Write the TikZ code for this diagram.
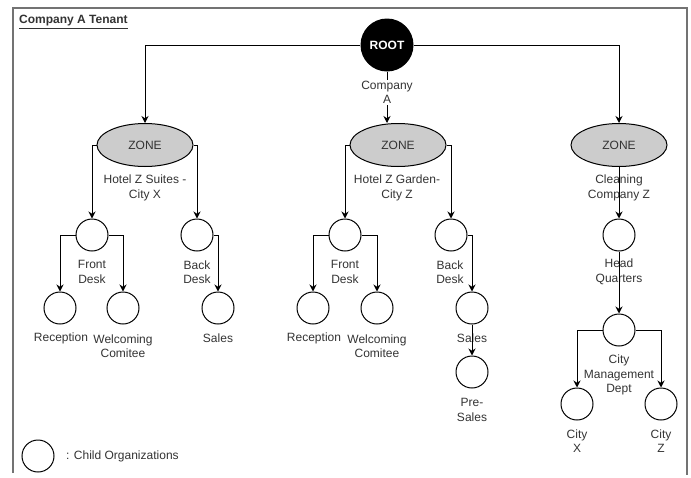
\documentclass[tikz,border=0pt]{standalone}
\usepackage{fontspec}
\setmainfont{Liberation Sans}
\usetikzlibrary{shapes.geometric}
\usetikzlibrary{arrows.meta}

\begin{document}
\begin{tikzpicture}[x=1pt, y=-1pt,
  every node/.style={font=\fontsize{12}{14.5}\selectfont, text=black!80},
  zone/.style={draw, ellipse, fill=black!20, minimum width=96pt, minimum height=43pt, inner sep=0pt, line width=1pt},
  org/.style={draw, circle, minimum size=32pt, inner sep=0pt, line width=1pt},
  lbl/.style={align=center, inner sep=0pt},
  arr/.style={line width=1pt, -{Stealth[length=7pt, width=7pt]}}
]
\useasboundingbox (0,0) rectangle (691,477);
\draw[black!55, line width=2pt] (13,473) -- (13,8) -- (687,8) -- (687,475);
\node[anchor=west, inner sep=0pt, font=\fontsize{12}{15}\selectfont\bfseries] (title) at (19,22) {\underline{Company A Tenant}};

\node[circle, fill=black, minimum size=53pt, inner sep=0pt, text=white, font=\fontsize{12}{15}\selectfont\bfseries] (root) at (387,45) {ROOT};

\node[zone] (zoneA) at (145,145) {ZONE};
\node[zone] (zoneB) at (398,145) {ZONE};
\node[zone] (zoneC) at (619,145) {ZONE};

\node[org] (fdA) at (92,235) {};
\node[org] (bdA) at (197,235) {};
\node[org] (recA) at (60,308) {};
\node[org] (welA) at (123,308) {};
\node[org] (salA) at (218,308) {};

\node[org] (fdB) at (345,235) {};
\node[org] (bdB) at (451,235) {};
\node[org] (recB) at (313,308) {};
\node[org] (welB) at (377,308) {};
\node[org] (salB) at (472,308) {};
\node[org] (preB) at (472,372) {};

\node[org] (hq) at (619,235) {};
\node[org] (cmd) at (619,330) {};
\node[org] (cx) at (577,404) {};
\node[org] (cz) at (661,404) {};

\node[org] (legend) at (38,456) {};
\node[anchor=west, inner sep=0pt] (legendtxt) at (66,456) {: Child Organizations};

\node[lbl] (lzoneA) at (145,188) {Hotel Z Suites -\\City X};
\node[lbl] (lzoneB) at (397,188) {Hotel Z Garden-\\City Z};
\node[lbl] (lzoneC) at (619,188) {Cleaning\\Company Z};
\node[lbl] (lfdA) at (92,272) {Front\\Desk};
\node[lbl] (lbdA) at (197,272) {Back\\Desk};
\node[lbl] (lrecA) at (61,338) {Reception};
\node[lbl] (lwelA) at (123,346) {Welcoming\\Comitee};
\node[lbl] (lsalA) at (218,338) {Sales};
\node[lbl] (lfdB) at (345,272) {Front\\Desk};
\node[lbl] (lbdB) at (450,272) {Back\\Desk};
\node[lbl] (lrecB) at (314,338) {Reception};
\node[lbl] (lwelB) at (377,346) {Welcoming\\Comitee};
\node[lbl] (lsalB) at (472,338) {Sales};
\node[lbl] (lpreB) at (472,410) {Pre-\\Sales};
\node[lbl] (lhq) at (619,272) {Head\\Quarters};
\node[lbl] (lcmd) at (619,375) {City\\Management\\Dept};
\node[lbl] (lcx) at (577,441) {City\\X};
\node[lbl] (lcz) at (661,441) {City\\Z};

\draw[arr] (root.west) -| (zoneA.north);
\draw[arr] (root.east) -| (zoneC.north);
\draw[arr] (root.south) -- (root.south |- zoneB.north) node[pos=0.4, fill=white, lbl, inner sep=1pt] (lroot) {Company\\A};

\draw[arr] (zoneA.west) -| (fdA.north);
\draw[arr] (zoneA.east) -| (bdA.north);
\draw[arr] (fdA.west) -| (recA.north);
\draw[arr] (fdA.east) -| (welA.north);
\draw[arr] (bdA.east) -| (salA.north);

\draw[arr] (zoneB.west) -| (fdB.north);
\draw[arr] (zoneB.east) -| (bdB.north);
\draw[arr] (fdB.west) -| (recB.north);
\draw[arr] (fdB.east) -| (welB.north);
\draw[arr] (bdB.east) -| (salB.north);
\draw[arr] (salB.south) -- (preB.north);

\draw[arr] (zoneC.south) -- (hq.north);
\draw[arr] (hq.south) -- (cmd.north);
\draw[arr] (cmd.west) -| (cx.north);
\draw[arr] (cmd.east) -| (cz.north);
\end{tikzpicture}
\end{document}
